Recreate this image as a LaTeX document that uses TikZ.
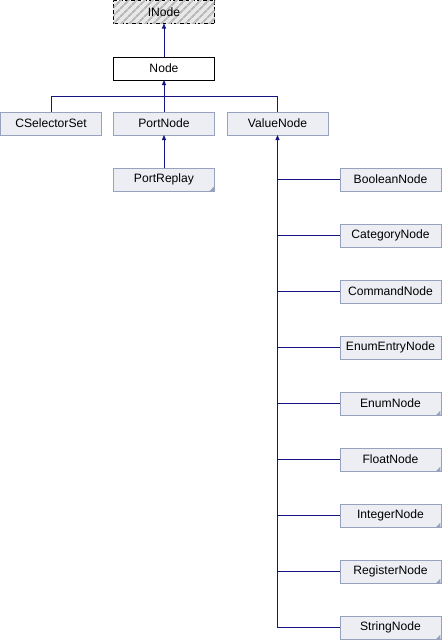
\documentclass[tikz,border=0pt]{standalone}
\usepackage{fontspec}
\setmainfont{Liberation Sans}
\usetikzlibrary{arrows.meta,patterns.meta}

\definecolor{edgeblue}{RGB}{20,20,130}
\definecolor{boxfill}{RGB}{236,238,244}
\definecolor{boxline}{RGB}{150,162,190}

\begin{document}
\begin{tikzpicture}[x=0.75pt,y=0.75pt,yscale=-1,xscale=1,
    every node/.style={font=\fontsize{9.1pt}{10pt}\selectfont, inner sep=0pt, outer sep=0pt,
        minimum width=75.75pt, minimum height=17.25pt, line width=0.75pt},
    cls/.style={draw=boxline, fill=boxfill},
    iface/.style={draw=black, dashed, dash pattern=on 3pt off 1.5pt, fill=gray!18,
        postaction={pattern={Lines[angle=45,distance=4pt,line width=1.6pt]}, pattern color=gray!55}},
    base/.style={draw=black, fill=white},
    corner/.style={fill=boxline},
    edge/.style={draw=edgeblue, line width=0.75pt},
    inherit/.style={edge, -{Triangle[length=3.75pt,width=3pt]}}]
        \useasboundingbox (0,0) rectangle (442,640);

        % Class Nodes
        \node [iface] (INode) at (164,12) {INode};
        \node [base] (Node) at (164,68.5) {Node};
        \node [cls] (CSelectorSet) at (51,123.5) {CSelectorSet};
        \node [cls] (PortNode) at (164,123.5) {PortNode};
        \node [cls] (ValueNode) at (277.5,123.5) {ValueNode};
        \node [cls] (PortReplay) at (164,179.5) {PortReplay};
        \node [cls] (BooleanNode) at (390.5,179.5) {BooleanNode};
        \node [cls] (CategoryNode) at (390.5,235.5) {CategoryNode};
        \node [cls] (CommandNode) at (390.5,291.5) {CommandNode};
        \node [cls] (EnumEntryNode) at (390.5,347.5) {EnumEntryNode};
        \node [cls] (EnumNode) at (390.5,403.5) {EnumNode};
        \node [cls] (FloatNode) at (390.5,459.5) {FloatNode};
        \node [cls] (IntegerNode) at (390.5,515.5) {IntegerNode};
        \node [cls] (RegisterNode) at (390.5,571.5) {RegisterNode};
        \node [cls] (StringNode) at (390.5,627.5) {StringNode};

        % Corner marks
        \fill [corner] ([xshift=-0.4pt,yshift=0.4pt]PortReplay.south east) -- ++(-5,0) -- ++(5,-5) -- cycle;
        \fill [corner] ([xshift=-0.4pt,yshift=0.4pt]EnumNode.south east) -- ++(-5,0) -- ++(5,-5) -- cycle;
        \fill [corner] ([xshift=-0.4pt,yshift=0.4pt]FloatNode.south east) -- ++(-5,0) -- ++(5,-5) -- cycle;
        \fill [corner] ([xshift=-0.4pt,yshift=0.4pt]IntegerNode.south east) -- ++(-5,0) -- ++(5,-5) -- cycle;
        \fill [corner] ([xshift=-0.4pt,yshift=0.4pt]RegisterNode.south east) -- ++(-5,0) -- ++(5,-5) -- cycle;
        \fill [corner] ([xshift=-0.4pt,yshift=0.4pt]StringNode.south east) -- ++(-5,0) -- ++(5,-5) -- cycle;

        % Junctions
        \coordinate (jn) at (164,96.5);
        \coordinate (vbot) at (ValueNode.south |- StringNode.west);

        % Inheritance
        \draw [inherit] (Node.north) -- (INode.south);
        \draw [inherit] (jn) -- (Node.south);
        \draw [edge] (CSelectorSet.north) |- (ValueNode.north |- jn) -- (ValueNode.north);
        \draw [edge] (PortNode.north) -- (jn);
        \draw [inherit] (PortReplay.north) -- (PortNode.south);
        \draw [inherit] (vbot) -- (ValueNode.south);
        \draw [edge] (ValueNode.south |- BooleanNode.west) -- (BooleanNode.west);
        \draw [edge] (ValueNode.south |- CategoryNode.west) -- (CategoryNode.west);
        \draw [edge] (ValueNode.south |- CommandNode.west) -- (CommandNode.west);
        \draw [edge] (ValueNode.south |- EnumEntryNode.west) -- (EnumEntryNode.west);
        \draw [edge] (ValueNode.south |- EnumNode.west) -- (EnumNode.west);
        \draw [edge] (ValueNode.south |- FloatNode.west) -- (FloatNode.west);
        \draw [edge] (ValueNode.south |- IntegerNode.west) -- (IntegerNode.west);
        \draw [edge] (ValueNode.south |- RegisterNode.west) -- (RegisterNode.west);
        \draw [edge] (vbot) -- (StringNode.west);

    \end{tikzpicture}
\end{document}
